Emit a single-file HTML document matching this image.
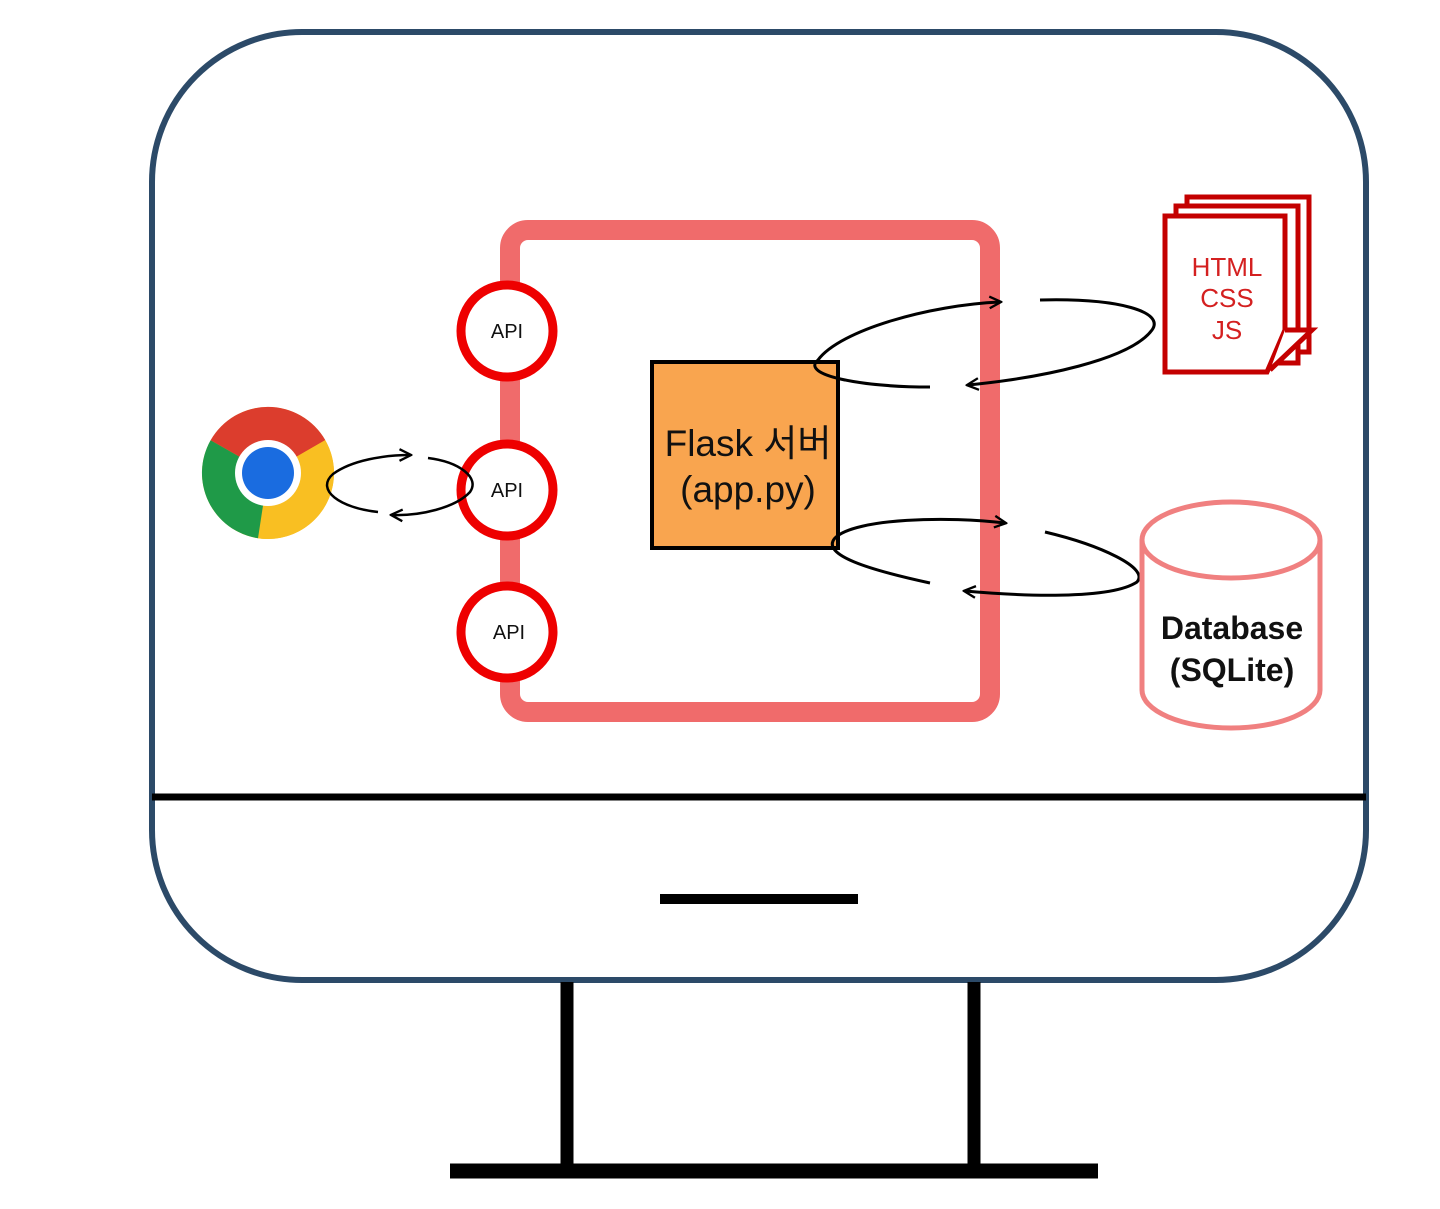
<!DOCTYPE html>
<html><head><meta charset="utf-8"><style>html,body{margin:0;padding:0;background:#fff}svg{display:block}</style></head>
<body>
<svg width="1440" height="1209" viewBox="0 0 1440 1209" xmlns="http://www.w3.org/2000/svg">
<defs>
<marker id="ah" viewBox="0 0 12 12" refX="10" refY="6" markerWidth="14" markerHeight="14" markerUnits="userSpaceOnUse" orient="auto">
<path d="M1 1 L11 6 L1 11" fill="none" stroke="#000" stroke-width="2"/>
</marker>
</defs>
<rect width="1440" height="1209" fill="#fff"/>
<!-- monitor -->
<rect x="152" y="32" width="1214" height="948" rx="150" ry="150" fill="none" stroke="#2c4a68" stroke-width="6"/>
<line x1="152" y1="797" x2="1366" y2="797" stroke="#000" stroke-width="7"/>
<line x1="660" y1="899" x2="858" y2="899" stroke="#000" stroke-width="10"/>
<line x1="567" y1="982" x2="567" y2="1165" stroke="#000" stroke-width="13"/>
<line x1="974" y1="982" x2="974" y2="1165" stroke="#000" stroke-width="13"/>
<line x1="450" y1="1171" x2="1098" y2="1171" stroke="#000" stroke-width="15"/>
<!-- red server box -->
<rect x="510" y="230" width="480" height="482" rx="18" fill="none" stroke="#f06b6b" stroke-width="20"/>
<!-- API circles -->
<g fill="#fff" stroke="#ee0000" stroke-width="9">
<circle cx="507" cy="331" r="46"/>
<circle cx="507" cy="490" r="46"/>
<circle cx="507" cy="632" r="46"/>
</g>
<g font-family="Liberation Sans, sans-serif" font-size="20" text-anchor="middle" fill="#111">
<text x="507" y="338">API</text>
<text x="507" y="497">API</text>
<text x="509" y="639">API</text>
</g>
<!-- chrome -->
<g transform="translate(268,473)">
<circle r="66" fill="#f9bf22"/>
<path d="M0 0 L-57.4 -32.7 A66 66 0 0 1 57.2 -33 Z" fill="#dc3d2d"/>
<path d="M0 0 L-57.4 -32.7 A66 66 0 0 0 -10 65.2 L33 0 Z" fill="#1f9a48"/>
<path d="M0 0 L-10 65.2 A66 66 0 0 0 57.2 -33 Z" fill="#f9bf22"/>
<path d="M0 0 L57.2 -33 L0 -33 Z" fill="#dc3d2d"/>
<circle r="33" fill="#fff"/>
<circle r="26" fill="#1a6ce0"/>
</g>
<!-- chrome arrows -->
<g fill="none" stroke="#000" stroke-width="2.5">
<path d="M378 512 C340 508 315 490 333 474 C352 460 385 455 410 455" marker-end="url(#ah)"/>
<path d="M428 458 C460 462 480 478 470 492 C455 508 420 516 392 515" marker-end="url(#ah)"/>
</g>
<!-- flask box -->
<rect x="652" y="362" width="186" height="186" fill="#f9a54f" stroke="#000" stroke-width="4"/>
<g font-family="Liberation Sans, 'Noto Sans CJK KR', sans-serif" font-size="37" text-anchor="middle" fill="#111">
<text x="748" y="456">Flask 서버</text>
<text x="748" y="502">(app.py)</text>
</g>
<!-- server arrows -->
<g fill="none" stroke="#000" stroke-width="3">
<path d="M930 387 C860 387 800 375 818 360 C840 330 930 305 1000 302" marker-end="url(#ah)"/>
<path d="M1040 300 C1120 298 1165 312 1152 330 C1130 360 1040 378 968 385" marker-end="url(#ah)"/>
<path d="M930 583 C870 570 820 555 835 538 C855 518 950 516 1005 523" marker-end="url(#ah)"/>
<path d="M1045 532 C1100 545 1150 568 1137 582 C1110 600 1020 596 965 591" marker-end="url(#ah)"/>
</g>
<!-- docs -->
<g fill="#fff" stroke="#c40000" stroke-width="5">
<rect x="1187" y="197" width="122" height="155"/>
<rect x="1176" y="206" width="122" height="157"/>
<path d="M1165 216 L1285 216 L1285 330 L1267 372 L1165 372 Z"/>
<path d="M1285 330 L1312 330 L1270 370" />
</g>
<g font-family="Liberation Sans, sans-serif" font-size="26" text-anchor="middle" fill="#d42020">
<text x="1227" y="276">HTML</text>
<text x="1227" y="307">CSS</text>
<text x="1227" y="339">JS</text>
</g>
<!-- database -->
<g fill="#fff" stroke="#f08080" stroke-width="5">
<path d="M1142 540 L1142 690 A89 38 0 0 0 1320 690 L1320 540"/>
<ellipse cx="1231" cy="540" rx="89" ry="38"/>
</g>
<g font-family="Liberation Sans, sans-serif" font-size="32" font-weight="bold" text-anchor="middle" fill="#111">
<text x="1232" y="639">Database</text>
<text x="1232" y="681">(SQLite)</text>
</g>
</svg>
</body></html>
